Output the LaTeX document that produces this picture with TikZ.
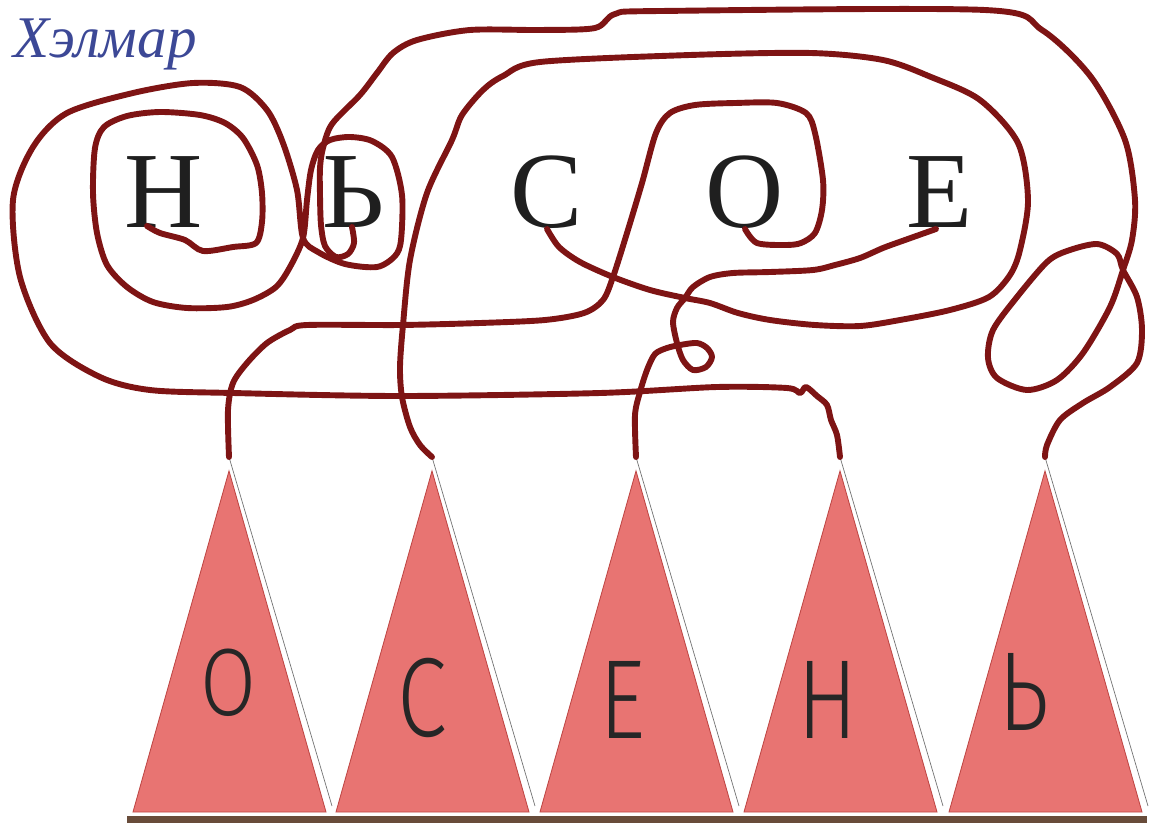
\documentclass[tikz,border=0pt]{standalone}
\usepackage{fontspec}
\setmainfont{Liberation Serif}
\IfFontExistsTF{Fira Sans Light}
	{\newfontfamily\handfont[FakeStretch=0.8]{Fira Sans Light}}
	{\newfontfamily\handfont[FakeStretch=0.8]{DejaVu Sans}}
\usetikzlibrary{positioning,calc}

\definecolor{wirered}{RGB}{126,20,20}
\definecolor{flagpink}{RGB}{232,116,114}
\definecolor{flagedge}{RGB}{190,70,68}
\definecolor{inkblue}{RGB}{60,72,150}
\definecolor{stripbrown}{RGB}{104,76,58}

\tikzset{
	wire/.style={draw=wirered,line width=4.2pt,line cap=round,line join=round},
	topletter/.style={inner sep=0pt,anchor=base,text=black!88,font=\fontsize{77}{80}\selectfont},
	handletter/.style={inner sep=0pt,text=black!85,font=\handfont\fontsize{80}{82}\selectfont},
	flag/.style={fill=flagpink,draw=flagedge,line width=0.6pt},
	flagstring/.style={draw=black!55,line width=0.5pt}
}

\begin{document}
\begin{tikzpicture}[x=0.025cm,y=-0.025cm]
		\useasboundingbox (0,0) rectangle (1152,823);
		\node[inkblue,inner sep=0pt,font=\itshape\fontsize{42}{46}\selectfont] (name) at (105,44) {Хэлмар};
		% letters on top
		\node[topletter] (lH) at (164,227) {Н};
		\node[topletter] (lSoft) at (354,227) {Ь};
		\node[topletter] (lS) at (547,227) {С};
		\node[topletter] (lO) at (745,227) {О};
		\node[topletter] (lE) at (940,227) {Е};
		\coordinate (fH) at (147,226);
		\coordinate (fSoft) at (352,227);
		\coordinate (fS) at (547,229);
		\coordinate (fO) at (745,229);
		\coordinate (fE) at (936,229);
		% flags
		\fill[stripbrown] (127,816) rectangle (1147,823);
		\foreach \ax [count=\i] in {229,432,636,840,1045} {
			\draw[flag] (\ax,471) -- (\ax+97,812) -- (\ax-96,812) -- cycle;
			\coordinate (tip\i) at (\ax,457);
			\draw[flagstring] (tip\i) -- ++(103,349);
		}
		\node[handletter,xscale=0.9,yscale=0.85] (hO) at (228,683) {О};
		\node[handletter] (hS) at (422,698) {С};
		\node[handletter] (hE) at (623,700) {Е};
		\node[handletter] (hH) at (828,700) {Н};
		\node[handletter] (hSoft) at (1024,692) {Ь};
		% lines
		\draw[wire] plot[smooth,tension=0.5] coordinates {(fH) (160,233) (185,240) (203,251) (233,247) (256,243) (262,222) (262,193) (257,165) (243,138) (225,123) (200,115) (160,112) (127,116) (104,127) (95,148) (93,193) (97,233) (107,265) (127,287) (153,302) (187,308) (227,307) (253,300) (276,287) (290,267) (303,238) (307,200) (311,170) (318,150) (330,140) (350,137) (372,141) (392,157) (402,195) (401,240) (395,256) (377,267) (345,264) (318,252) (303,238) (297,190) (283,143) (267,110) (240,87) (193,83) (133,93) (67,113) (33,147) (13,200) (20,277) (50,343) (100,377) (150,390) (233,393) (400,396) (600,393) (717,387) (787,388) (800,393) (806,387) (817,396) (827,405) (831,420) (837,435) (tip4)};
		\draw[wire] plot[smooth,tension=0.5] coordinates {(fSoft) (354,243) (348,254) (336,257) (325,246) (321,225) (320,195) (320,168) (323,148) (332,124) (360,95) (377,73) (393,53) (417,40) (470,30) (540,30) (595,28) (615,14) (660,11) (985,10) (1042,30) (1091,77) (1125,140) (1135,200) (1132,240) (1123,270) (1110,307) (1083,353) (1057,380) (1027,390) (997,378) (988,358) (993,330) (1017,297) (1047,262) (1067,251) (1097,244) (1117,254) (1123,270) (1137,297) (1142,330) (1137,363) (1110,387) (1083,403) (1060,420) (1047,445) (tip5)};
		\draw[wire] plot[smooth,tension=0.5] coordinates {(fS) (559,247) (580,262) (613,277) (650,290) (685,298) (710,303) (738,313) (770,320) (815,325) (860,326) (900,320) (950,310) (989,297) (1010,275) (1020,250) (1028,200) (1018,143) (980,100) (931,77) (883,60) (811,53) (690,55) (540,62) (503,76) (483,90) (462,115) (452,140) (427,193) (410,260) (403,325) (400,367) (402,397) (410,427) (420,445) (tip2)};
		\draw[wire] plot[smooth,tension=0.5] coordinates {(fO) (757,243) (785,245) (801,243) (815,233) (822,210) (823,180) (815,133) (806,113) (777,103) (735,103) (695,105) (670,113) (656,133) (642,183) (627,233) (613,277) (603,300) (584,313) (545,320) (480,323) (400,325) (307,325) (290,330) (267,343) (247,363) (233,383) (228,410) (tip1)};
		\draw[wire] plot[smooth,tension=0.5] coordinates {(fE) (905,240) (883,248) (860,258) (835,265) (813,270) (770,272) (733,273) (710,277) (693,287) (685,298) (677,308) (673,322) (677,343) (683,360) (693,370) (706,367) (712,357) (707,348) (697,343) (680,345) (667,348) (655,354) (647,370) (640,392) (635,415) (tip3)};
	\end{tikzpicture}
\end{document}
